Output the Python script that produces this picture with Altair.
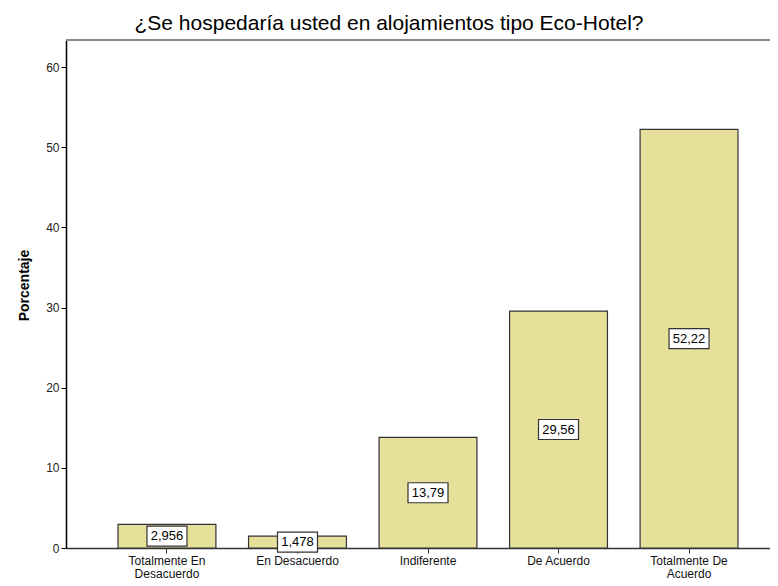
import altair as alt
import pandas as pd

categories = ["Totalmente En Desacuerdo", "En Desacuerdo", "Indiferente", "De Acuerdo", "Totalmente De Acuerdo"]
values = [2.956, 1.478, 13.79, 29.56, 52.22]
y_ticks = [0, 10, 20, 30, 40, 50, 60]

df = pd.DataFrame({"cat": categories, "v": values})

x_enc = alt.X(
    "cat:N",
    sort=categories,
    title=None,
    scale=alt.Scale(paddingInner=0.25, paddingOuter=0.322, align=0.619),
    axis=alt.Axis(
        labelAngle=0,
        labelExpr="indexof(datum.label,'Totalmente')==0 ? [slice(datum.label,0,13), slice(datum.label,14)] : datum.label",
        labelFontSize=12,
        labelColor="#111",
        labelPadding=2,
        labelLineHeight=13,
        tickSize=5,
        tickColor="#333",
        domainColor="#333",
        domainWidth=1.5,
        grid=False,
    ),
)

y_enc = alt.Y(
    "v:Q",
    title="Porcentaje",
    scale=alt.Scale(domain=[0, 63.37], nice=False),
    axis=alt.Axis(
        values=y_ticks,
        labelFontSize=12,
        labelColor="#222",
        tickSize=5,
        tickColor="#000",
        domainColor="#000",
        domainWidth=1.5,
        titleFontSize=14,
        titleFontWeight="bold",
        titleColor="#000",
        titlePadding=14,
        titleY=245,
        grid=False,
    ),
)

top_line = alt.Chart(df).mark_rule(color="#888", strokeWidth=1.5).encode(
    x=alt.value(0), x2=alt.value(704), y=alt.value(0)
)

bars = alt.Chart(df).mark_bar(color="#E6E09B", stroke="#333", strokeWidth=1.2).encode(x=x_enc, y=y_enc)

base = alt.Chart(df).transform_calculate(
    half="datum.v/2", lab="replace(toString(datum.v), '.', ',')"
)

boxes = base.mark_point(
    shape="M-1,-0.5H1V0.5H-1Z", size=1600, filled=True, fill="white", stroke="#333", strokeWidth=1.2, opacity=1
).encode(x=alt.X("cat:N", sort=categories), y=alt.Y("half:Q"))

texts = base.mark_text(fontSize=13, color="#000", baseline="middle", align="center").encode(
    x=alt.X("cat:N", sort=categories), y=alt.Y("half:Q"), text="lab:N"
)

chart = (
    alt.layer(top_line, bars, boxes, texts)
    .properties(
        width=704,
        height=508,
        title=alt.TitleParams(
            "¿Se hospedaría usted en alojamientos tipo Eco-Hotel?",
            fontSize=21,
            fontWeight="normal",
            color="#000",
            anchor="middle",
            dx=-29,
            offset=5,
        ),
        autosize=alt.AutoSizeParams(type="none"),
        padding={"left": 58, "top": 32, "right": 0, "bottom": 38},
    )
    .configure(font="Liberation Sans")
    .configure_view(strokeWidth=0)
)

chart.save("out.html", embed_options={"renderer": "svg", "actions": False})
